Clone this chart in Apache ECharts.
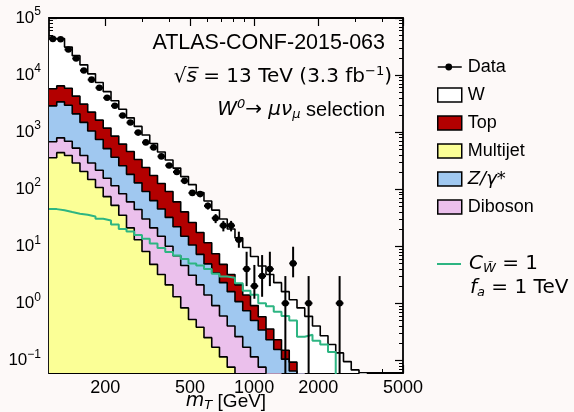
<!DOCTYPE html>
<html>
<head>
<meta charset="utf-8">
<script src="https://cdn.jsdelivr.net/npm/echarts@6/dist/echarts.min.js"></script>
<style>
  html, body { margin: 0; padding: 0; background: #fdf9f8; }
  #chart { width: 574px; height: 412px; }
</style>
</head>
<body>
<div id="chart"></div>
<script>
// bin edges of the mT histogram [GeV]
const binEdges = [108.9, 118.4, 128.8, 140.0, 152.2, 165.5, 180.0, 195.7, 212.9, 231.5, 251.7, 273.7,
  297.6, 323.6, 351.9, 382.6, 416.1, 452.3, 491.9, 534.9, 581.6, 632.5, 687.7, 747.8, 813.1, 884.2,
  961.6, 1045.6, 1137.0, 1236.4, 1344.3, 1461.8, 1589.6, 1728.5, 1879.6, 2043.9, 2222.5, 2416.4,
  2627.6, 2857.6, 3107.4, 3379.0, 3674.4, 3995.6, 4344.7, 4724.6, 5137];

// upper edge of each stacked band (events per bin)
const multijet = [355, 437, 389, 288, 204, 148, 107, 74, 52, 35, 21, 13, 8.1, 4.8, 3.2, 2.1, 1.3, 0.83,
  0.52, 0.38, 0.25, 0.17, 0.115, 0.076];
const stackDiboson = [676, 794, 692, 525, 389, 288, 214, 155, 115, 83, 60, 44, 30, 21, 15, 10, 6.8, 4.6,
  3.1, 2.1, 1.4, 0.91, 0.6, 0.4, 0.26, 0.17, 0.115, 0.076, 0.05, 0.032];
const stackZ = [2884, 3388, 2951, 2089, 1479, 1047, 741, 513, 363, 257, 182, 129, 91, 63, 45, 32, 22, 15,
  10.5, 7.2, 4.9, 3.4, 2.3, 1.6, 1.07, 0.74, 0.5, 0.34, 0.23, 0.155, 0.105, 0.065, 0.04];
const stackTop = [5754, 6457, 5888, 4266, 3090, 2239, 1622, 1175, 851, 617, 457, 331, 240, 174, 126, 91,
  60, 40, 26, 17.4, 11.5, 7.4, 4.8, 3.2, 2.1, 1.4, 0.91, 0.58, 0.355, 0.23, 0.15, 0.093, 0.05];
const stackW = [43650, 43650, 30900, 21900, 15100, 10500, 7410, 5130, 3550, 2510, 1780, 1260, 891, 631,
  447, 324, 234, 166, 120, 87, 62, 43, 30, 20, 14, 9.5, 6.6, 4.5, 3.2, 2.3, 1.6, 1.15, 0.83, 0.59, 0.4,
  0.27, 0.19, 0.135, 0.095, 0.068, 0.045];

// signal C_W~ = 1, f_a = 1 TeV
const signal = [44.7, 42.7, 39.8, 37.2, 35.5, 33.1, 30.2, 28.2, 24, 20, 18.2, 15.8, 13.5, 11.2, 9.3, 7.9,
  6.9, 6.0, 5.0, 4.6, 4.0, 3.3, 2.95, 2.8, 2.24, 1.66, 1.41, 1.0, 0.89, 0.71, 0.6, 0.5, 0.26, 0.28, 0.22,
  0.19, 0.14];

// data: counts and error bar ends (null = empty bin)
const dataCounts = [43000, 42500, 28000, 19500, 12000, 8300, 6000, 4000, 2900, 1950, 1470, 980, 660, 540,
  375, 260, 200, 140, 86, 82, 51, 31, 23, 23, 13, 4, 2, 3, 4, null, 1, 5, null, 1, null, null, null, 1];
const dataLow = [42790, 42290, 27830, 19360, 11890, 8210, 5920, 3940, 2850, 1910, 1430, 950, 635, 517,
  356, 244, 186, 128, 77, 73, 44, 25.4, 18.2, 18.2, 9.4, 2.0, 1.2, 1.3, 2.0, null, 0, 2.85, null, 0,
  null, null, null, 0];
const dataHigh = [43210, 42710, 28170, 19640, 12110, 8390, 6080, 4060, 2950, 1990, 1510, 1010, 686, 563,
  394, 276, 214, 152, 95, 91, 58, 36.6, 27.8, 27.8, 18, 8.0, 4.7, 7.0, 8.0, null, 3.0, 9.8, null, 3.0,
  null, null, null, 3.0];

// axis ticks / labels
const xLabels = [200, 500, 1000, 2000, 5000];
const xMinor = [300, 400, 600, 700, 800, 900, 3000, 4000];
const yLabels = [0.1, 1, 10, 100, 1000, 10000, 100000];
const yMinor = [0.07, 0.08, 0.09, 0.2, 0.3, 0.4, 0.5, 0.6, 0.7, 0.8, 0.9, 2, 3, 4, 5, 6, 7, 8, 9,
  20, 30, 40, 50, 60, 70, 80, 90, 200, 300, 400, 500, 600, 700, 800, 900, 2000, 3000, 4000, 5000,
  6000, 7000, 8000, 9000, 20000, 30000, 40000, 50000, 60000, 70000, 80000, 90000];

const X_MIN = 108.9, X_MAX = 5000, Y_MIN = 0.06, Y_MAX = 100000;
const FLOOR = 1e-3; // drawn below the axis and clipped

const SANS = '"Liberation Sans", Arial, sans-serif';
const MATH = '"DejaVu Sans", sans-serif';

function stepData(arr) {
  const pts = arr.map((v, i) => [binEdges[i], v > 0 ? v : FLOOR]);
  const n = arr.length;
  pts.push([binEdges[n], arr[n - 1] > 0 ? arr[n - 1] : FLOOR]);
  pts.push([binEdges[n], FLOOR]);
  return pts;
}

function band(name, arr, fill) {
  return {
    name: name,
    type: 'line',
    step: 'end',
    symbol: 'none',
    silent: true,
    clip: true,
    data: stepData(arr),
    lineStyle: { color: '#000', width: 1.6 },
    itemStyle: { color: fill },
    areaStyle: { color: fill, opacity: 1, origin: 'start' },
  };
}

const dataPoints = [];
dataCounts.forEach((v, i) => {
  if (v == null) return;
  const c = Math.sqrt(binEdges[i] * binEdges[i + 1]);
  dataPoints.push([c, v, dataLow[i], dataHigh[i], binEdges[i], binEdges[i + 1]]);
});

function supExp(v) {
  const e = Math.round(Math.log10(v));
  return '{b|10}{s|' + (e < 0 ? '\u2212' + (-e) : e) + '}';
}

function xAxisBase(pos, extra) {
  return Object.assign({
    type: 'log', position: pos, min: X_MIN, max: X_MAX,
    axisLine: { show: false }, splitLine: { show: false },
    axisLabel: { show: false }, minorTick: { show: false },
  }, extra);
}
function yAxisBase(pos, extra) {
  return Object.assign({
    type: 'log', position: pos, min: Y_MIN, max: Y_MAX,
    axisLine: { show: false }, splitLine: { show: false },
    axisLabel: { show: false }, minorTick: { show: false },
  }, extra);
}
const majorTick = (vals) => ({ show: true, inside: true, length: 8, customValues: vals,
  lineStyle: { color: '#000', width: 1.2 } });
const minorTick = (vals) => ({ show: true, inside: true, length: 4, customValues: vals,
  lineStyle: { color: '#000', width: 1 } });

const chart = echarts.init(document.getElementById('chart'));

const option = {
  backgroundColor: '#fdf9f8',
  animation: false,
  grid: {
    left: 49, right: 171, top: 18, bottom: 39,
    show: true, borderColor: '#000', borderWidth: 1.8, backgroundColor: 'transparent',
    outerBoundsMode: 'none',
  },
  xAxis: [
    xAxisBase('bottom', {
      axisTick: majorTick(xLabels),
      axisLabel: {
        show: true, customValues: xLabels, color: '#000', fontSize: 18, fontFamily: SANS, margin: 6,
        formatter: (v) => String(v),
      },
      name: '{i|m}{sub|T}{r| [GeV]}',
      nameLocation: 'middle',
      nameGap: 18,
      nameMoveOverlap: false,
      nameTextStyle: {
        color: '#000', fontSize: 19, fontFamily: SANS, verticalAlign: 'top',
        rich: {
          i: { fontSize: 19, fontStyle: 'italic', fontFamily: MATH, color: '#000' },
          sub: { fontSize: 13, fontStyle: 'italic', fontFamily: MATH, color: '#000', padding: [8, 0, 0, 0] },
          r: { fontSize: 19, fontFamily: SANS, color: '#000' },
        },
      },
    }),
    xAxisBase('bottom', { axisTick: minorTick(xMinor) }),
    xAxisBase('top', { axisTick: majorTick(xLabels) }),
    xAxisBase('top', { axisTick: minorTick(xMinor) }),
  ],
  yAxis: [
    yAxisBase('left', {
      axisTick: majorTick(yLabels),
      axisLabel: {
        show: true, customValues: yLabels, color: '#000', margin: 8,
        formatter: supExp,
        rich: {
          b: { fontSize: 17, fontFamily: SANS, color: '#000' },
          s: { fontSize: 12, fontFamily: SANS, color: '#000', padding: [0, 0, 12, 0] },
        },
      },
    }),
    yAxisBase('left', { axisTick: minorTick(yMinor) }),
    yAxisBase('right', { axisTick: majorTick(yLabels) }),
    yAxisBase('right', { axisTick: minorTick(yMinor) }),
  ],
  legend: [
    {
      orient: 'vertical', left: 432, top: 53, itemWidth: 24, itemHeight: 14, itemGap: 10,
      selectedMode: false,
      textStyle: { color: '#000', fontSize: 18, fontFamily: SANS, padding: [0, 0, 0, 1],
        rich: { it: { fontSize: 18, fontFamily: MATH, fontStyle: 'italic', color: '#000' } } },
      formatter: (n) => (n === 'Z/γ*' ? '{it|Z/γ*}' : n),
      data: [
        { name: 'Data', icon: 'path://M0,6.3H24V7.7H0Z M7.6,7A3.4,3.4 0 1,1 14.4,7A3.4,3.4 0 1,1 7.6,7Z',
          itemStyle: { color: '#000', borderWidth: 0 } },
        { name: 'W', icon: 'rect', itemStyle: { color: '#ffffff', borderColor: '#000', borderWidth: 1.5 } },
        { name: 'Top', icon: 'rect', itemStyle: { color: '#b30000', borderColor: '#000', borderWidth: 1.5 } },
        { name: 'Multijet', icon: 'rect', itemStyle: { color: '#fbff96', borderColor: '#000', borderWidth: 1.5 } },
        { name: 'Z/γ*', icon: 'rect', itemStyle: { color: '#a0c8f0', borderColor: '#000', borderWidth: 1.5 } },
        { name: 'Diboson', icon: 'rect', itemStyle: { color: '#ebc0ec', borderColor: '#000', borderWidth: 1.5 } },
      ],
    },
    {
      orient: 'vertical', left: 432, top: 249, itemWidth: 24, itemHeight: 14,
      selectedMode: false,
      textStyle: { color: '#000', fontSize: 20, fontFamily: MATH, padding: [0, 0, 0, 3],
        rich: {
          i: { fontSize: 20, fontFamily: MATH, fontStyle: 'italic', color: '#000' },
          sub: { fontSize: 13, fontFamily: MATH, fontStyle: 'italic', color: '#000', padding: [10, 0, 0, 0] },
          r: { fontSize: 20, fontFamily: MATH, color: '#000' },
        } },
      formatter: () => '{i|C}{sub|W\u0303}{r| = 1}',
      data: [{ name: 'signal', icon: 'path://M0,0H24V2H0Z', itemStyle: { color: '#2db582', borderWidth: 0 } }],
    },
  ],
  graphic: [
    { type: 'text', x: 385, y: 43, silent: true,
      style: { text: 'ATLAS-CONF-2015-063', font: '21.5px ' + SANS, fill: '#000', align: 'right', verticalAlign: 'middle' } },
    { type: 'text', x: 392, y: 77, silent: true,
      style: {
        text: '{r|\u221A}{i|s\u0305}{r| = 13 TeV (3.3 fb}{sup|\u22121}{r|)}',
        align: 'right', verticalAlign: 'middle',
        rich: {
          r: { fontSize: 20, fontFamily: MATH, fill: '#000' },
          i: { fontSize: 20, fontFamily: MATH, fontStyle: 'italic', fill: '#000' },
          sup: { fontSize: 13, fontFamily: MATH, fill: '#000', padding: [0, 0, 11, 0] },
        },
      } },
    { type: 'text', x: 385, y: 110, silent: true,
      style: {
        text: '{i|W}{sup|0}{r|\u2192 }{i|\u03BC\u03BD}{sub|\u03BC}{t| selection}',
        align: 'right', verticalAlign: 'middle',
        rich: {
          i: { fontSize: 20, fontFamily: MATH, fontStyle: 'italic', fill: '#000' },
          sup: { fontSize: 13, fontFamily: MATH, fontStyle: 'italic', fill: '#000', padding: [0, 0, 11, 0] },
          sub: { fontSize: 13, fontFamily: MATH, fontStyle: 'italic', fill: '#000', padding: [9, 0, 0, 0] },
          r: { fontSize: 20, fontFamily: MATH, fill: '#000' },
          t: { fontSize: 20, fontFamily: SANS, fill: '#000' },
        },
      } },
    { type: 'text', x: 470, y: 288, silent: true,
      style: {
        text: '{i|f}{sub|a}{r| = 1 TeV}',
        verticalAlign: 'middle',
        rich: {
          i: { fontSize: 20, fontFamily: MATH, fontStyle: 'italic', fill: '#000' },
          sub: { fontSize: 13, fontFamily: MATH, fontStyle: 'italic', fill: '#000', padding: [9, 0, 0, 0] },
          r: { fontSize: 20, fontFamily: MATH, fill: '#000' },
        },
      } },
  ],
  series: [
    band('W', stackW, '#ffffff'),
    band('Top', stackTop, '#b30000'),
    band('Z/γ*', stackZ, '#a0c8f0'),
    band('Diboson', stackDiboson, '#ebc0ec'),
    band('Multijet', multijet, '#fbff96'),
    {
      name: 'signal', type: 'line', step: 'end', symbol: 'none', silent: true, clip: true,
      data: stepData(signal),
      lineStyle: { color: '#2db582', width: 2 },
      itemStyle: { color: '#2db582' },
    },
    {
      name: 'Data', type: 'custom', silent: true, z: 5,
      encode: { x: 0, y: 1 },
      data: dataPoints,
      renderItem: (params, api) => {
        const x = api.value(0), y = api.value(1);
        const c = api.coord([x, y]);
        const lo = api.coord([x, Math.max(api.value(2), Y_MIN)]);
        const hi = api.coord([x, api.value(3)]);
        const l = api.coord([api.value(4), y]);
        const r = api.coord([api.value(5), y]);
        return {
          type: 'group',
          children: [
            { type: 'line', shape: { x1: c[0], y1: lo[1], x2: c[0], y2: hi[1] }, style: { stroke: '#000', lineWidth: 2 } },
            { type: 'line', shape: { x1: l[0], y1: c[1], x2: r[0], y2: c[1] }, style: { stroke: '#000', lineWidth: 2 } },
            { type: 'circle', shape: { cx: c[0], cy: c[1], r: 3.3 }, style: { fill: '#000' } },
          ],
        };
      },
    },
  ],
};

chart.setOption(option);
</script>
</body>
</html>
